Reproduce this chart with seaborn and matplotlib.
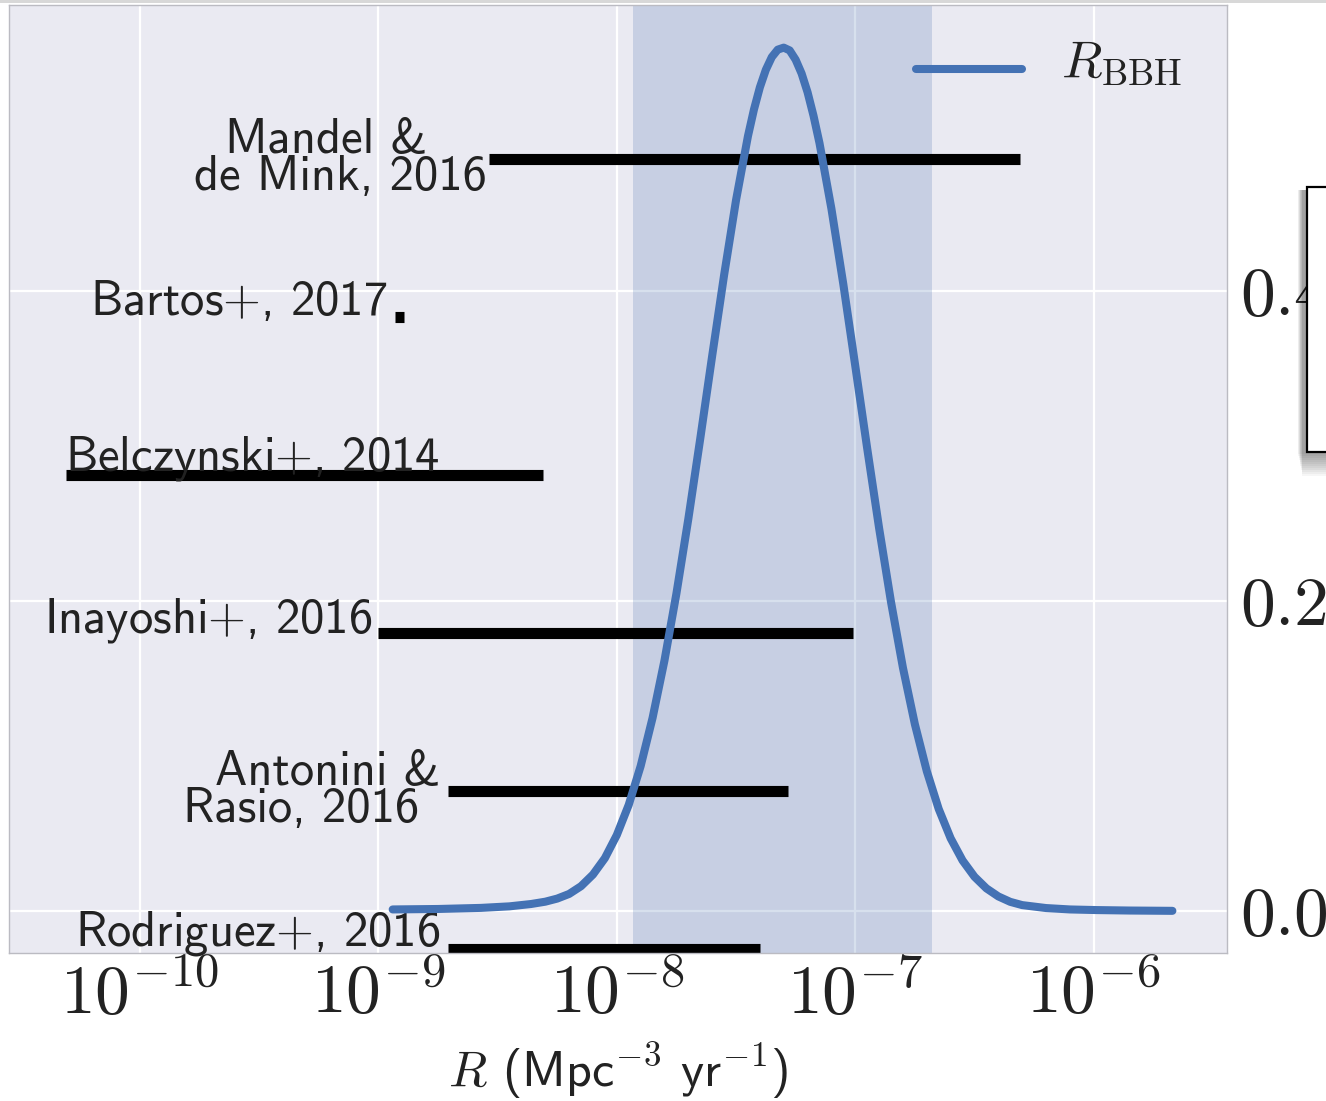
import matplotlib
matplotlib.use("Agg")
import numpy as np
import pandas as pd
import matplotlib.pyplot as plt
import seaborn as sns
from matplotlib.patches import Rectangle
from matplotlib.transforms import Affine2D

# Posterior on the binary-black-hole merger rate, tabulated in log10 R
log_rate = [-8.94, -8.75, -8.57, -8.45, -8.36, -8.30, -8.25, -8.20, -8.15, -8.10,
            -8.05, -8.00, -7.95, -7.90, -7.85, -7.80, -7.75, -7.70, -7.65, -7.60,
            -7.55, -7.50, -7.45, -7.425, -7.40, -7.375, -7.35, -7.325, -7.30, -7.275,
            -7.25, -7.225, -7.20, -7.175, -7.15, -7.10,
            -7.05, -7.00, -6.95, -6.90, -6.85, -6.80, -6.75, -6.70, -6.65, -6.60,
            -6.55, -6.50, -6.45, -6.40, -6.35, -6.30, -6.20, -6.10, -5.99, -5.85,
            -5.67]
density = [0.0010, 0.0013, 0.0020, 0.0030, 0.0045, 0.0060, 0.0080, 0.0110, 0.0160, 0.0235,
           0.0341, 0.0490, 0.0685, 0.0935, 0.1246, 0.1617, 0.2048, 0.2530, 0.3048, 0.3582,
           0.4103, 0.4586, 0.4999, 0.5170, 0.5314, 0.5427, 0.5509, 0.5557, 0.5570, 0.5552,
           0.5492, 0.5403, 0.5282, 0.5130, 0.4954, 0.4531,
           0.4043, 0.3517, 0.2985, 0.2470, 0.1993, 0.1569, 0.1205, 0.0902, 0.0658, 0.0469,
           0.0326, 0.0221, 0.0146, 0.0094, 0.0059, 0.0038, 0.0019, 0.0010, 0.0006, 0.0003,
           0.0001]

# 90% credible interval of the rate
credible_low = 1.17e-8
credible_high = 2.1e-7

# Predicted rate ranges from the literature (Mpc^-3 yr^-1)
studies = ["Mandel &\nde Mink, 2016", "Bartos$+$, 2017", "Belczynski$+$, 2014",
           "Inayoshi$+$, 2016", "Antonini &\nRasio, 2016", "Rodriguez$+$, 2016"]
rate_low = [2.9e-9, 1.18e-9, 4.9e-11, 1.0e-9, 1.95e-9, 1.95e-9]
rate_high = [4.9e-7, 1.28e-9, 4.9e-9, 9.8e-8, 5.2e-8, 4.0e-8]
study_row = [5, 4, 3, 2, 1, 0]

x_ticks = [1e-10, 1e-9, 1e-8, 1e-7, 1e-6]
x_tick_labels = [r"$10^{-10}$", r"$10^{-9}$", r"$10^{-8}$", r"$10^{-7}$", r"$10^{-6}$"]
y_ticks = [0.0, 0.2, 0.4]
y_tick_labels = [r"$0.0$", r"$0.2$", r"$0.4$"]

# label placement: per text line (ha, dx px, dy px) relative to the bar's left end
label_layout = [
    [("right", -61, 6), ("right", -2, -31)],
    [("right", -8, 2)],
    [("left", -1, 5)],
    [("right", -6, 1)],
    [("right", -7, 6), ("right", -28, -31)],
    [("right", -7, 4)],
]

sns.set_theme(style="darkgrid")
plt.rcParams["font.family"] = ["cmss10", "DejaVu Sans"]
plt.rcParams["mathtext.fontset"] = "cm"
plt.rcParams["axes.unicode_minus"] = True

W, H = 1326, 1101
fig = plt.figure(figsize=(W / 100, H / 100), dpi=100)
fig.patch.set_facecolor("white")
ax = fig.add_axes([9 / W, 1 - 953 / H, (1227 - 9) / W, (953 - 5) / H])
ax.set_xscale("log")

blue = "#4472B4"

ax.axvspan(credible_low, credible_high, color="#4C72B0", alpha=0.22, lw=0, zorder=1)

# literature bars, spaced evenly over the height of the panel
row_frac = [(r + 0.025) / 6.0 for r in study_row]
ax.hlines(row_frac, rate_low, rate_high, colors="black", lw=8,
          transform=ax.get_xaxis_transform(), zorder=2)

for name, lo, yf, layout in zip(studies, rate_low, row_frac, label_layout):
    for line, (ha, dx, dy) in zip(name.split("\n"), layout):
        ax.annotate(line, xy=(lo, yf), xycoords=ax.get_xaxis_transform(),
                    xytext=(dx, dy), textcoords="offset pixels",
                    ha=ha, va="baseline", fontsize=35, color="#222222",
                    zorder=4, annotation_clip=False)

curve = pd.DataFrame({"R": np.power(10.0, log_rate), "p": density})
sns.lineplot(data=curve, x="R", y="p", ax=ax, color=blue, lw=5.8,
             label=r"$R_{\rm BBH}$", zorder=5, solid_capstyle="round",
             solid_joinstyle="round")

ax.set_xlim(10 ** -10.549, 10 ** -5.441)
ax.set_ylim(-0.0271, 0.5845)

ax.set_xticks(x_ticks)
ax.set_xticklabels(x_tick_labels)
ax.xaxis.set_minor_locator(matplotlib.ticker.NullLocator())
ax.yaxis.tick_right()
ax.set_yticks(y_ticks)
ax.set_yticklabels(y_tick_labels)
ax.tick_params(axis="x", labelsize=50, pad=6, length=0, colors="#222222")
ax.tick_params(axis="y", labelsize=50, pad=9, length=0, colors="#222222")
ax.tick_params(axis="y", which="both", left=False, labelleft=False)
ax.grid(True, color="white", lw=1.6)
ax.set_ylabel("")
ax.set_xlabel(r"$R$ (Mpc$^{-3}$ yr$^{-1}$)", fontsize=36, color="#222222", labelpad=9.5)
for s in ax.spines.values():
    s.set_visible(True)
    s.set_color("#BBBBC2")
    s.set_linewidth(1.0)

leg = ax.legend(loc="upper right", frameon=False, fontsize=38, handlelength=2.0,
                handletextpad=0.75, borderaxespad=0.45)
for t in leg.get_texts():
    t.set_color("#222222")
    t.set_transform(t.get_transform() + Affine2D().translate(0, 11))

# neighbouring panel's box peeking in at the right edge, with its drop shadow
def fbox(x0, y0, x1, y1, **kw):
    return Rectangle((x0 / W, 1 - y1 / H), (x1 - x0) / W, (y1 - y0) / H,
                     transform=fig.transFigure, **kw)

for k in range(12):
    fig.patches.append(fbox(1298 + k * 0.4, 190, 1340, 452 + 2 * (k + 1),
                            facecolor="black", edgecolor="none", alpha=0.035, zorder=9))
fig.patches.append(fbox(1307, 187, 1345, 452, facecolor="white", edgecolor="black",
                        lw=1.6, zorder=10))
fig.patches.append(fbox(0, 0, W, 3, facecolor="#D8D8D8", edgecolor="none", zorder=10))

fig.savefig("out.png", dpi=100)
